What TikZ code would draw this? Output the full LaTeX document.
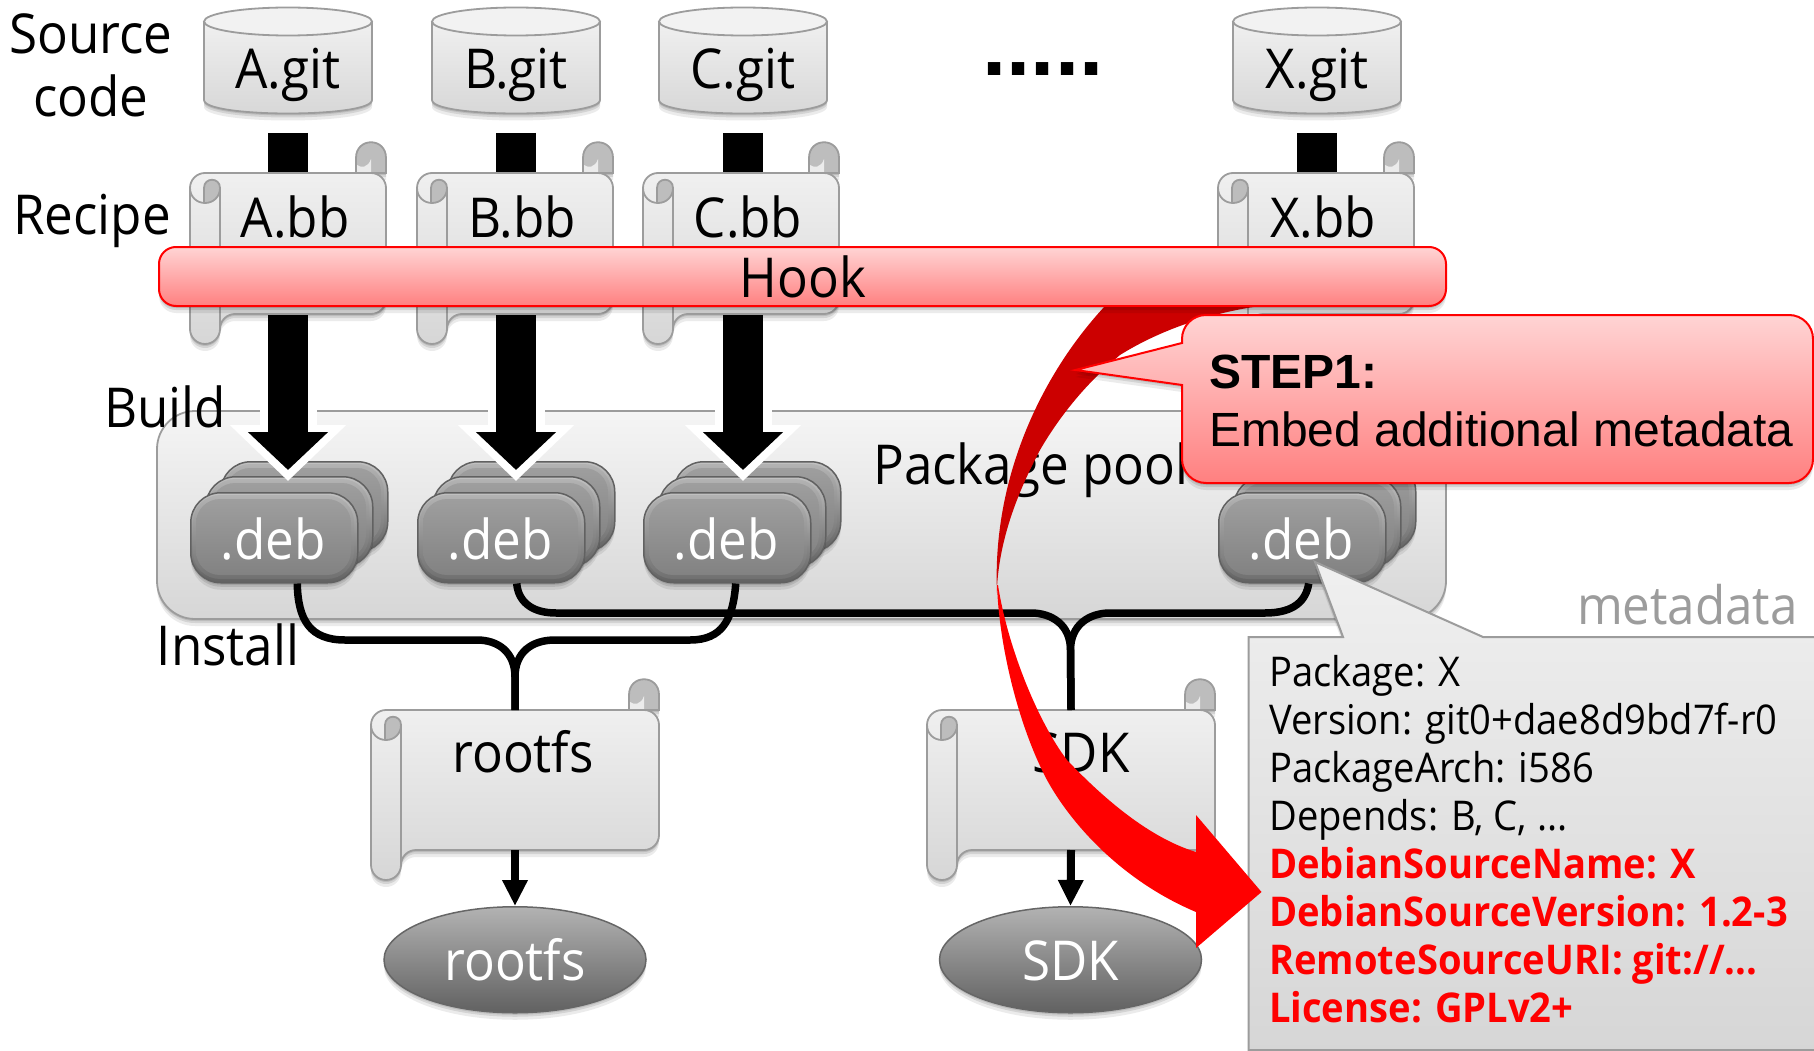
\documentclass[tikz,border=0pt]{standalone}
\usepackage{fontspec}
\setmainfont{Open Sans}[FakeStretch=0.93]
\newfontfamily\arialf{Liberation Sans}
\usetikzlibrary{shapes.geometric,shadows,arrows.meta}
\definecolor{lnG}{HTML}{9C9C9C}
\definecolor{curlG}{HTML}{BDBDBD}
\definecolor{hookT}{HTML}{FFD4D4}
\definecolor{hookB}{HTML}{FF8080}
\tikzset{
  softshadow/.style={
    general shadow={shadow yshift=-2pt,fill=black,opacity=.10},
    general shadow={shadow yshift=-4pt,fill=black,opacity=.10},
    general shadow={shadow yshift=-7pt,fill=black,opacity=.08}},
  lbl/.style={anchor=base,inner sep=0pt,yshift=-2pt,font=\fontsize{55}{60}\selectfont},
  mono/.style={anchor=base west,inner sep=0pt,yshift=-1.5pt,font=\fontsize{41}{48}\selectfont},
  redmono/.style={mono,text=red,font=\fontsize{41}{48}\selectfont\bfseries},
  ghostbox/.style={inner sep=0pt,outer sep=0pt,rectangle},
  lightbody/.style={draw=lnG,line width=1.8pt,top color=black!6,bottom color=black!16},
  curlpart/.style={draw=lnG,line width=1.8pt,fill=curlG},
  deb/.style={rectangle,inner sep=0pt,minimum width=167pt,minimum height=90pt,rounded corners=30pt,draw=black!62,line width=1.5pt,top color=black!24,bottom color=black!62,softshadow},
  oval/.style={ellipse,inner sep=0pt,minimum width=262pt,minimum height=106pt,draw=black!60,line width=1.5pt,top color=black!30,bottom color=black!62,softshadow},
  conn/.style={line width=7.5pt,black},
  bigwhite/.style={line width=57pt,white,-{Triangle[length=56pt,width=113pt]},shorten <=15pt,shorten >=11pt},
  bigblack/.style={line width=40pt,black,-{Triangle[length=38pt,width=78pt]},shorten <=20pt,shorten >=22pt},
  smallarrow/.style={line width=8pt,black,-{Triangle[length=26pt,width=24pt]}},
  redbox/.style={draw=red,line width=2pt,top color=hookT,bottom color=hookB,softshadow}
}
\newcommand{\gitcyl}[3]{% name, center x, text
  \begin{scope}[shift={(#2,0)}]
    \path[lightbody,softshadow] (-84,22) -- (-84,100) .. controls (-84,118) and (84,118) .. (84,100) -- (84,22) -- cycle;
    \draw[draw=lnG,line width=1.8pt,fill=black!5] (0,21.5) ellipse [x radius=84pt,y radius=14pt];
    \node[ghostbox,minimum width=168pt,minimum height=106pt] (#1) at (0,60) {};
    \node[lbl] (#1-t) at (0,87) {#3};
  \end{scope}}
\newcommand{\scrollbox}[8]{% name,x,top y,W,H,text x offset,baseline offset,text
  \begin{scope}[shift={(#2,#3)}]
    \def\W{#4}\def\H{#5}
    \draw[curlpart,softshadow] (\W-30,0) -- (\W-30,-15) .. controls (\W-30,-36) and (\W,-36) .. (\W,-15) -- (\W,0) -- cycle;
    \fill[black!8] (\W-29,-8) .. controls (\W-25,-5) and (\W-18,-5) .. (\W-15,-14) -- (\W-15,1) -- (\W-29,1) -- cycle;
    \path[lightbody,softshadow,rounded corners=15pt] (100,\H) -- (\W,\H) -- (\W,0) -- (0,0) -- (0,\H+30) -- (30,\H+30) -- (30,\H) -- cycle;
    \draw[draw=lnG,line width=1.8pt] (30,15) -- (30,\H+15);
    \fill[curlG] (14,30) -- (14,15) .. controls (14,4) and (30,4) .. (30,15) .. controls (30,24) and (23,30) .. (14,30) -- cycle;
    \draw[draw=lnG,line width=1.8pt,fill=none] (0,15) .. controls (0,24) and (7,30) .. (15,30) .. controls (23,30) and (30,24) .. (30,15) .. controls (30,4) and (14,4) .. (14,15) -- (14,30);
    \node[ghostbox,minimum width=#4pt,minimum height=#5pt] (#1) at (\W/2,\H/2) {};
    \node[lbl] (#1-t) at (\W/2+#6,#7) {#8};
  \end{scope}}
\newcommand{\debface}[3]{% name, x, y of the top-left corner
  \node[deb,anchor=north west] (#1) at (#2,#3) {};
  \path[top color=black!30,bottom color=black!56,rounded corners=27pt] (#2+3,#3+3) rectangle (#2+164,#3+87);
  \path[top color=black!38,bottom color=black!49,rounded corners=24pt] (#2+6,#3+7) rectangle (#2+161,#3+83);}
\newcommand{\debstack}[3]{% name, left x, text
  \begin{scope}[shift={(#2,0)}]
    \debface{#1-back}{30}{461}
    \debface{#1-mid}{15}{476}
    \debface{#1}{0}{492}
    \node[lbl,text=white] (#1-t) at (83,557) {#3};
  \end{scope}}
\begin{document}
\begin{tikzpicture}[x=1pt,y=-1pt]
\useasboundingbox (0,0) rectangle (1814,1051);
\fill[white] (0,0) rectangle (1814,1051);

% left labels
\node[lbl] (lsource) at (91,52) {Source};
\node[lbl] (lcode) at (91,115) {code};
\node[lbl] (lrecipe) at (92,232) {Recipe};

% repositories
\gitcyl{gitA}{288}{A.git}
\gitcyl{gitB}{516}{B.git}
\gitcyl{gitC}{743}{C.git}
\gitcyl{gitX}{1317}{X.git}
\node[anchor=base,inner sep=0pt,font=\arialf\bfseries\fontsize{87}{90}\selectfont] (dots) at (1043,76) {.....};

% package pool
\path[lightbody,softshadow,rounded corners=38pt,top color=black!4] (157,411) rectangle (1446,619);
\node[ghostbox,minimum width=1289pt,minimum height=208pt] (pool) at (801.5,515) {};
\node[lbl,anchor=base west] (pool-t) at (873,482) {Package pool};
\node[lbl] (lbuild) at (165,425) {Build};
\node[lbl] (linstall) at (228,663) {Install};

% debs
\debstack{debA}{190}{.deb}
\debstack{debB}{417}{.deb}
\debstack{debC}{643}{.deb}
\debstack{debX}{1218}{.deb}

% build arrows
\foreach \k in {A,B,C,X}{
  \draw[bigwhite] (git\k.south) -- (git\k.south |- deb\k.north);
  \draw[bigblack] (git\k.south) -- (git\k.south |- deb\k.north);
}

% recipes
\scrollbox{bbA}{190}{173}{196}{141}{7}{62}{A.bb}
\scrollbox{bbB}{417}{173}{196}{141}{7}{62}{B.bb}
\scrollbox{bbC}{643}{173}{196}{141}{7}{62}{C.bb}
\scrollbox{bbX}{1218}{173}{196}{141}{7}{62}{X.bb}

% images
\scrollbox{fsR}{371}{710}{288}{140}{8}{60}{rootfs}
\scrollbox{fsS}{927}{710}{288}{140}{10}{60}{SDK}
\node[oval,anchor=north] (ovR) at (515,906) {};
\node[lbl,text=white] (ovR-t) at (515,978) {rootfs};
\node[oval,anchor=north] (ovS) at (1070.5,906) {};
\node[lbl,text=white] (ovS-t) at (1070.5,978) {SDK};
\draw[smallarrow] (fsR.south) -- (ovR.north);
\draw[smallarrow] (fsS.south) -- (ovS.north);

% install connectors
\draw[conn] ([xshift=23pt]debA.south) .. controls (298,620) and (310,640) .. (345,640) -- (477,640) .. controls (498,640) and (515,652) .. (515,677) -- (fsR.north);
\draw[conn] ([xshift=8.5pt]debC.south) .. controls (733,620) and (722,640) .. (690,640) -- (555,640) .. controls (532,640) and (515,652) .. (515,677) -- (fsR.north);
\draw[conn] ([xshift=15.5pt]debB.south) .. controls (518,600) and (530,613) .. (556,613) -- (1031,613) .. controls (1052,613) and (1070.5,625) .. (1070.5,650) -- (fsS.north);
\draw[conn] ([xshift=6.5pt]debX.south) .. controls (1306,600) and (1295,613) .. (1265,613) -- (1110,613) .. controls (1089,613) and (1070.5,625) .. (1070.5,650) -- (fsS.north);

% metadata box
\path[lightbody,line width=2pt,softshadow] (1248.5,637) -- (1343,637) -- (1315,562) -- (1483,637) -- (1830,637) -- (1830,1050) -- (1248.5,1050) -- cycle;
\node[lbl,anchor=base east,text=lnG,font=\fontsize{53}{60}\selectfont] (mdlabel) at (1798,622) {metadata};
\node[mono] (m1) at (1269,685) {Package: X};
\node[mono] (m2) at (1269,733) {Version: git0+dae8d9bd7f-r0};
\node[mono] (m3) at (1269,781) {PackageArch: i586};
\node[mono] (m4) at (1269,829) {Depends: B, C, ...};
\node[redmono] (m5) at (1269,877) {DebianSourceName: X};
\node[redmono] (m6) at (1269,925) {DebianSourceVersion: 1.2-3};
\node[redmono] (m7) at (1269,973) {RemoteSourceURI: git://...};
\node[redmono] (m8) at (1269,1021) {License: GPLv2+};

% big curved arrow
\fill[red!80!black] (1105,306) .. controls (1040,376) and (992,480) .. (997,593)
   -- (997,587) .. controls (1000,535) and (1020,488) .. (1040,450)
   .. controls (1062,412) and (1090,380) .. (1120,355)
   .. controls (1160,330) and (1210,313) .. (1260,306) -- cycle;
\fill[red] (997,585) .. controls (999,645) and (1018,725) .. (1047,780)
   .. controls (1070,822) and (1120,880) .. (1196,912) -- (1196,948) -- (1261.5,892) -- (1196,815) -- (1196,852)
   .. controls (1150,838) and (1105,800) .. (1067,760)
   .. controls (1040,725) and (1008,650) .. (998,585) -- cycle;

% hook bar
\path[redbox,rounded corners=17pt] (159,247) rectangle (1446,306);
\node[ghostbox,minimum width=1287pt,minimum height=59pt] (hook) at (802.5,276.5) {};
\node[lbl,yshift=2pt] (hook-t) at (803,297) {Hook};

% step1 callout
\path[redbox] (1182,343) -- (1075.5,370) -- (1182,385) [rounded corners=24pt] -- (1182,483) -- (1813,483) -- (1813,315) -- (1182,315) [sharp corners] -- cycle;
\node[anchor=base west,inner sep=0pt,font=\arialf\bfseries\fontsize{48}{56}\selectfont] (step) at (1209,388) {STEP1:};
\node[anchor=base west,inner sep=0pt,font=\arialf\fontsize{48}{56}\selectfont] (embed) at (1209,446) {Embed additional metadata};
\end{tikzpicture}
\end{document}
